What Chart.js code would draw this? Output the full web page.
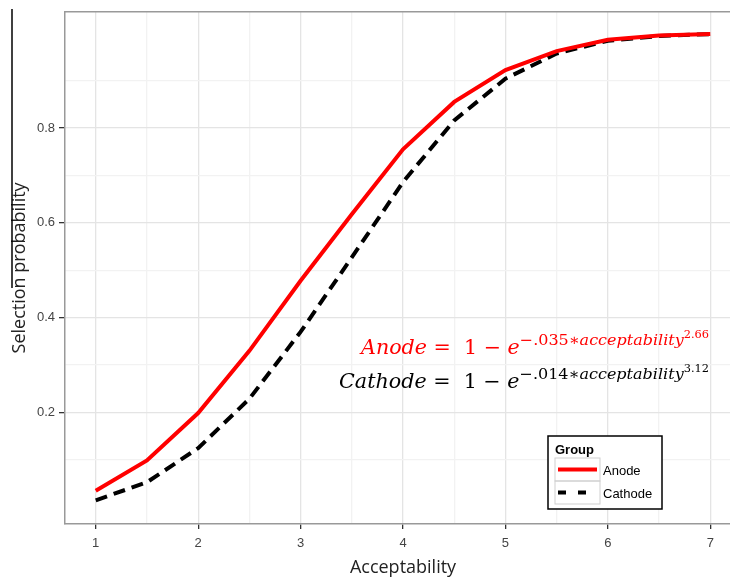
<!DOCTYPE html>
<html>
<head>
<meta charset="utf-8">
<script src="https://cdn.jsdelivr.net/npm/chart.js@4.4.1/dist/chart.umd.min.js"></script>
<style>
  html, body { margin: 0; padding: 0; background: #fff; overflow: hidden; }
</style>
</head>
<body>
<canvas id="myChart" width="745" height="579"></canvas>
<script>
// values
const acceptability = [1, 1.5, 2, 2.5, 3, 3.5, 4, 4.5, 5, 5.5, 6, 6.5, 7];
const anode   = [0.035, 0.099, 0.199, 0.330, 0.478, 0.618, 0.755, 0.855, 0.922, 0.962, 0.986, 0.995, 0.998];
const cathode = [0.015, 0.053, 0.125, 0.229, 0.370, 0.527, 0.686, 0.816, 0.904, 0.957, 0.984, 0.994, 0.998];
const groups = ['Anode', 'Cathode'];
const xTicks = [1, 1.5, 2, 2.5, 3, 3.5, 4, 4.5, 5, 5.5, 6, 6.5, 7];
const yTicks = [0.1, 0.2, 0.3, 0.4, 0.5, 0.6, 0.7, 0.8, 0.9];
const yLabels = [0.2, 0.4, 0.6, 0.8];

const tickFont = { family: 'Liberation Sans, Arial, sans-serif', size: 13 };
const isMajorX = v => Number.isInteger(v);
const isMajorY = v => yLabels.some(l => Math.abs(l - v) < 1e-6);

const anodeEq = [
  { t: 'Anode', it: true, s: 20, r: 0 },
  { t: ' =  1 − ', it: false, s: 20, r: 0 },
  { t: 'e', it: true, s: 20, r: 0 },
  { t: '−.035∗', it: false, s: 15.5, r: 9 },
  { t: 'acceptability', it: true, s: 15.5, r: 9 },
  { t: '2.66', it: false, s: 11, r: 16 }
];
const cathodeEq = [
  { t: 'Cathode', it: true, s: 20, r: 0 },
  { t: ' =  1 − ', it: false, s: 20, r: 0 },
  { t: 'e', it: true, s: 20, r: 0 },
  { t: '−.014∗', it: false, s: 15.5, r: 9 },
  { t: 'acceptability', it: true, s: 15.5, r: 9 },
  { t: '3.12', it: false, s: 11, r: 16 }
];

function eqFont(seg) {
  return (seg.it ? 'italic ' : '') + seg.s + 'px "DejaVu Serif", serif';
}

function drawEq(c, segs, left, right, base, color) {
  let w = 0;
  segs.forEach(seg => { c.font = eqFont(seg); w += c.measureText(seg.t).width; });
  const sx = (right - left) / w;
  c.save();
  c.translate(left, base);
  c.scale(sx, 1);
  c.fillStyle = color;
  c.textBaseline = 'alphabetic';
  c.textAlign = 'left';
  let x = 0;
  segs.forEach(seg => {
    c.font = eqFont(seg);
    c.fillText(seg.t, x, -seg.r);
    x += c.measureText(seg.t).width;
  });
  c.restore();
}

const decor = {
  id: 'decor',
  afterDraw(chart) {
    const c = chart.ctx;
    const a = chart.chartArea;
    c.save();
    // top panel border
    c.strokeStyle = '#999';
    c.lineWidth = 1.5;
    c.beginPath();
    c.moveTo(a.left, a.top);
    c.lineTo(a.right, a.top);
    c.stroke();
    // stray crop line at the far left
    c.strokeStyle = '#000';
    c.lineWidth = 1.5;
    c.beginPath();
    c.moveTo(12, 9);
    c.lineTo(12, 288);
    c.stroke();

    drawEq(c, anodeEq, 361, 709, 354, '#ff0000');
    drawEq(c, cathodeEq, 339, 709, 388, '#000000');

    // legend
    c.fillStyle = '#fff';
    c.fillRect(548, 436, 114, 73);
    c.strokeStyle = '#000';
    c.lineWidth = 1.5;
    c.strokeRect(548, 436, 114, 73);
    c.fillStyle = '#000';
    c.font = 'bold 13px "Liberation Sans", Arial, sans-serif';
    c.textBaseline = 'middle';
    c.fillText('Group', 555, 450);
    const colors = ['#ff0000', '#000000'];
    const dashes = [[], [8, 12]];
    groups.forEach((g, i) => {
      const y0 = 458 + i * 23;
      c.strokeStyle = '#cfcfcf';
      c.lineWidth = 1;
      c.setLineDash([]);
      c.strokeRect(555, y0, 45, 23);
      c.strokeStyle = colors[i];
      c.lineWidth = 4;
      c.setLineDash(dashes[i]);
      c.beginPath();
      c.moveTo(558, y0 + 11.5);
      c.lineTo(597, y0 + 11.5);
      c.stroke();
      c.setLineDash([]);
      c.fillStyle = '#000';
      c.font = '13px "Liberation Sans", Arial, sans-serif';
      c.fillText(g, 603, y0 + 13);
    });
    c.restore();
  }
};

const ctx = document.getElementById('myChart');

new Chart(ctx, {
  type: 'line',
  data: {
    datasets: [{
      label: groups[0],
      data: acceptability.map((x, i) => ({ x: x, y: anode[i] })),
      borderColor: '#ff0000',
      borderWidth: 4,
      pointRadius: 0,
      fill: false,
      tension: 0
    }, {
      label: groups[1],
      data: acceptability.map((x, i) => ({ x: x, y: cathode[i] })),
      borderColor: '#000000',
      borderWidth: 4,
      borderDash: [12, 7],
      pointRadius: 0,
      fill: false,
      tension: 0
    }]
  },
  options: {
    responsive: false,
    animation: false,
    layout: { padding: { top: 10, right: 4, left: 0, bottom: 0 } },
    plugins: {
      legend: { display: false },
      tooltip: { enabled: false }
    },
    scales: {
      x: {
        type: 'linear',
        min: 0.7,
        max: 7.3,
        afterBuildTicks: s => { s.ticks = xTicks.map(v => ({ value: v })); },
        afterFit: s => { s.height = 55; },
        ticks: {
          callback: v => isMajorX(v) ? String(v) : '',
          color: '#444',
          font: tickFont,
          padding: 7,
          maxRotation: 0,
          autoSkip: false
        },
        grid: {
          color: c => isMajorX(c.tick.value) ? '#e4e4e4' : '#f2f2f2',
          lineWidth: 1.3,
          tickColor: c => isMajorX(c.tick.value) ? '#333' : 'rgba(0,0,0,0)',
          tickLength: 5
        },
        border: { display: true, color: '#999', width: 1.5 },
        title: {
          display: true,
          text: 'Acceptability',
          color: '#222',
          font: { family: 'Open Sans, sans-serif', size: 18 },
          padding: { top: -1, bottom: 0 }
        }
      },
      y: {
        type: 'linear',
        min: -0.035,
        max: 1.045,
        afterBuildTicks: s => { s.ticks = yTicks.map(v => ({ value: v })); },
        afterFit: s => { s.width = 65; },
        ticks: {
          callback: v => isMajorY(v) ? v.toFixed(1) : '',
          color: '#444',
          font: tickFont,
          padding: 4
        },
        grid: {
          color: c => isMajorY(c.tick.value) ? '#e4e4e4' : '#f2f2f2',
          lineWidth: 1.3,
          tickColor: c => isMajorY(c.tick.value) ? '#333' : 'rgba(0,0,0,0)',
          tickLength: 6
        },
        border: { display: true, color: '#999', width: 1.5 },
        title: {
          display: true,
          text: 'Selection probability',
          color: '#222',
          font: { family: 'Open Sans, sans-serif', size: 18 },
          padding: { top: 9, bottom: 0 }
        }
      }
    }
  },
  plugins: [decor]
});
</script>
</body>
</html>
